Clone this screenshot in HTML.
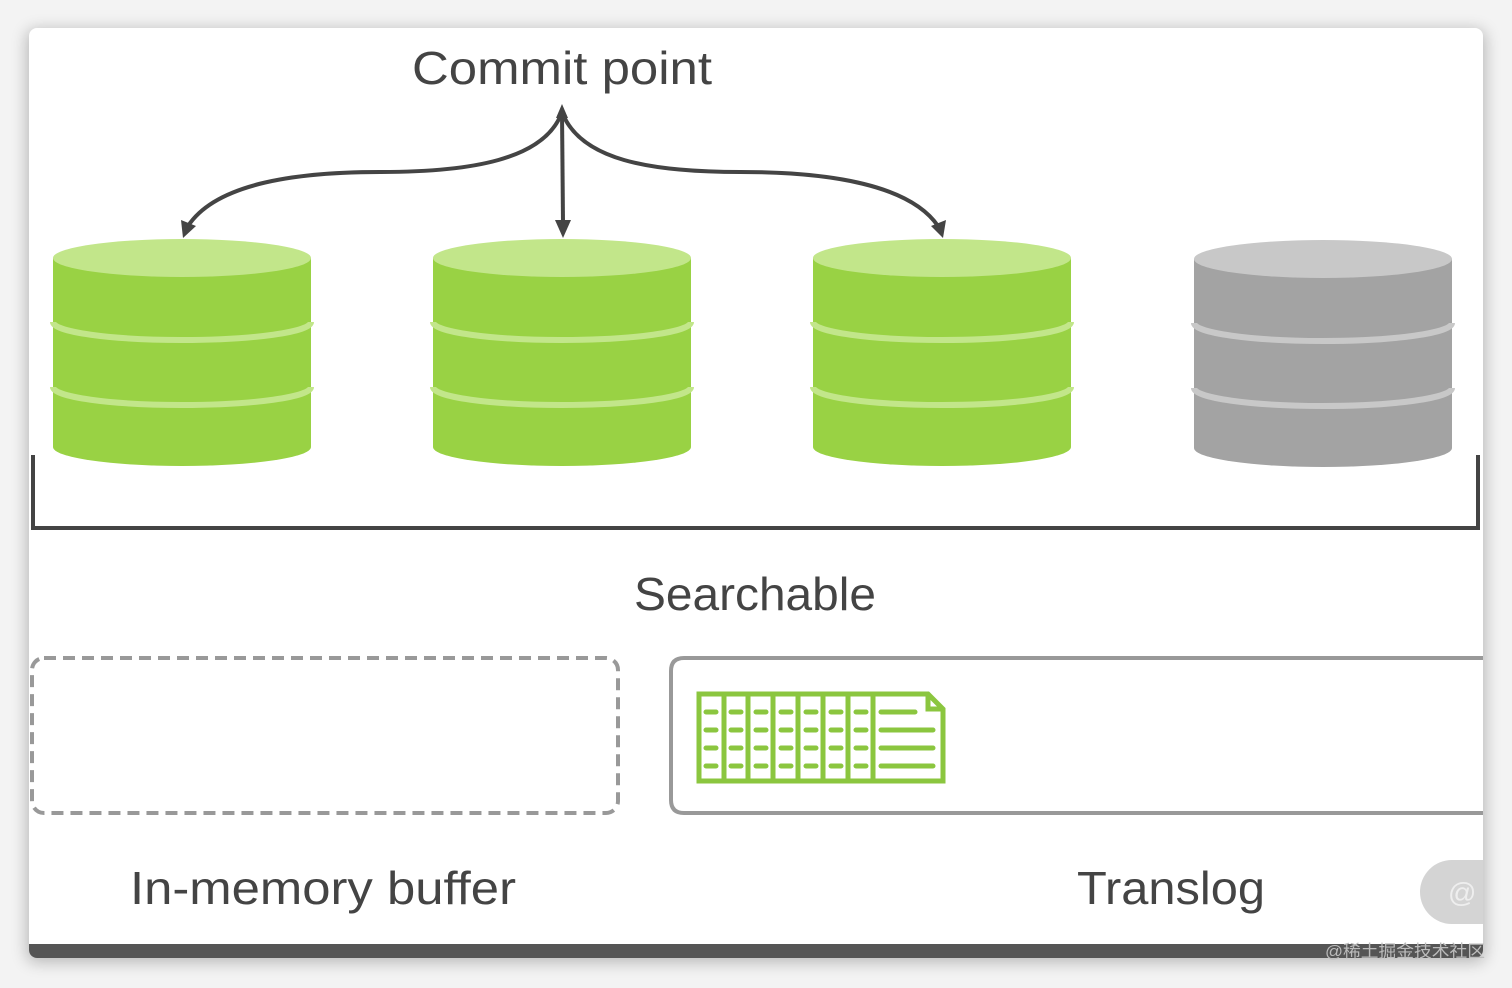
<!DOCTYPE html>
<html><head><meta charset="utf-8"><style>
html,body{margin:0;padding:0;background:#f2f2f2;}
svg{display:block}
</style></head><body>
<svg width="1512" height="988" viewBox="0 0 1512 988" xmlns="http://www.w3.org/2000/svg">
<defs>
<filter id="sh" x="-5%" y="-5%" width="110%" height="110%"><feGaussianBlur stdDeviation="8"/></filter>
<clipPath id="cc"><rect x="29" y="28" width="1454" height="930" rx="8"/></clipPath>
<g id="cyl">
<path d="M0 19 L0 208 A129 19 0 0 0 258 208 L258 19 Z" fill="var(--b)"/>
<ellipse cx="129" cy="19" rx="129" ry="19" fill="var(--t)"/>
<path d="M0 83 A129 18 0 0 0 258 83" fill="none" stroke="var(--t)" stroke-width="6"/>
<path d="M0 148 A129 18 0 0 0 258 148" fill="none" stroke="var(--t)" stroke-width="6"/>
</g>
</defs>
<rect x="0" y="0" width="1512" height="988" fill="#f3f3f3"/>
<rect x="27" y="30" width="1458" height="932" rx="8" fill="#000" opacity="0.25" filter="url(#sh)"/>
<g clip-path="url(#cc)">
<rect x="29" y="28" width="1454" height="930" fill="#fff"/>
<rect x="29" y="944" width="1454" height="14" fill="#555"/>
<rect x="1420" y="860" width="100" height="64" rx="32" fill="#d4d4d4"/>
<text x="1448" y="902" font-family="Liberation Sans, sans-serif" font-size="28" fill="#eee">@</text>
<path d="M1490 658 L684 658 Q671 658 671 671 L671 800 Q671 813 684 813 L1490 813" fill="none" stroke="#999" stroke-width="4"/>
</g>
<text x="1325" y="957" font-family="Liberation Sans, Noto Sans CJK SC, sans-serif" font-size="17" fill="#bbb" textLength="160" lengthAdjust="spacingAndGlyphs">@稀土掘金技术社区</text>

<text x="562" y="84" text-anchor="middle" font-family="Liberation Sans, sans-serif" font-size="46" fill="#444" textLength="300" lengthAdjust="spacingAndGlyphs">Commit point</text>

<g fill="none" stroke="#444" stroke-width="4">
<path d="M562 112 L563 222"/>
<path d="M562 112 C545 160 470 172 380 172 C290 172 215 185 188 226"/>
<path d="M562 112 C580 160 650 172 740 172 C830 172 910 185 938 226"/>
</g>
<g fill="#444">
<polygon points="555,220 571,220 563,238"/>
<polygon points="181,220 196,226 183,238"/>
<polygon points="931,226 946,220 943,238"/>
<polygon points="556,118 562,104 568,118"/>
</g>

<use href="#cyl" x="53" y="239" style="--b:#99d244;--t:#c2e68a"/>
<use href="#cyl" x="433" y="239" style="--b:#99d244;--t:#c2e68a"/>
<use href="#cyl" x="813" y="239" style="--b:#99d244;--t:#c2e68a"/>
<use href="#cyl" x="1194" y="240" style="--b:#a3a3a3;--t:#c8c8c8"/>

<path d="M33 455 L33 528 L1478 528 L1478 455" fill="none" stroke="#444" stroke-width="4"/>

<text x="755" y="610" text-anchor="middle" font-family="Liberation Sans, sans-serif" font-size="46" fill="#444" textLength="242" lengthAdjust="spacingAndGlyphs">Searchable</text>

<rect x="32" y="658" width="586" height="155" rx="12" fill="none" stroke="#999" stroke-width="4" stroke-dasharray="12 7"/>

<g fill="none" stroke="#8bc63f" stroke-width="5">
<path d="M699 694 L928 694 L943 709 L943 781 L699 781 Z"/>
<path d="M724 694V781M748 694V781M773 694V781M798 694V781M823 694V781M848 694V781M873 694V781"/>
<path d="M928 694 L928 709 L943 709"/>
</g>
<g stroke="#8bc63f" stroke-width="5" stroke-linecap="round">
<path d="M706 712H716M706 730H716M706 748H716M706 766H716"/>
<path d="M731 712H741M731 730H741M731 748H741M731 766H741"/>
<path d="M756 712H766M756 730H766M756 748H766M756 766H766"/>
<path d="M781 712H791M781 730H791M781 748H791M781 766H791"/>
<path d="M806 712H816M806 730H816M806 748H816M806 766H816"/>
<path d="M831 712H841M831 730H841M831 748H841M831 766H841"/>
<path d="M856 712H866M856 730H866M856 748H866M856 766H866"/>
<path d="M881 712H915M881 730H933M881 748H933M881 766H933"/>
</g>

<text x="323" y="904" text-anchor="middle" font-family="Liberation Sans, sans-serif" font-size="46" fill="#444" textLength="386" lengthAdjust="spacingAndGlyphs">In-memory buffer</text>
<text x="1171" y="904" text-anchor="middle" font-family="Liberation Sans, sans-serif" font-size="46" fill="#444" textLength="188" lengthAdjust="spacingAndGlyphs">Translog</text>
</svg>
</body></html>
